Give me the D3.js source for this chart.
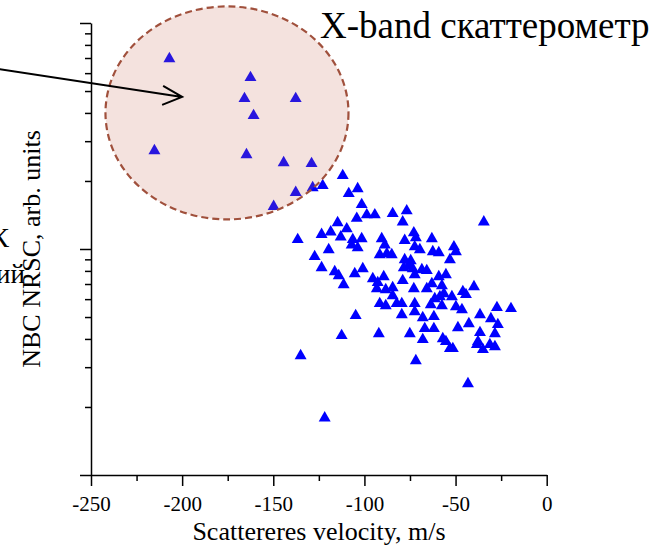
<!DOCTYPE html>
<html>
<head>
<meta charset="utf-8">
<script src="https://cdn.jsdelivr.net/npm/d3@7"></script>
<style>
  body { margin: 0; background: #fff; }
  svg text { font-family: "Liberation Serif", "Times New Roman", serif; fill: #000; }
  .axis path, .axis line { stroke: #000; stroke-width: 1.5; }
</style>
</head>
<body>
<svg width="667" height="548"></svg>
<script>
// scatterer velocity, m/s
const velocity = [
  -207.0, -162.5, -165.8, -137.7, -160.8, -215.2, -164.7, -144.3, -129.0, -137.7, -128.4, -122.9, -149.8,
  -111.9, -108.6, -103.7, -101.5, -104.2, -98.7, -94.3, -84.5, -76.8, -79.0, -34.5, -114.7,
  -109.7, -118.5, -123.5, -113.0, -136.6, -106.4, -101.5, -90.5, -72.9, -71.8, -63.0, -77.9,
  -107.0, -103.7, -88.8, -119.6, -91.6, -87.7, -85.0, -72.4, -69.6, -62.5, -59.2, -50.9,
  -49.8, -53.1, -127.3, -123.5, -116.3, -114.1, -111.4, -105.3, -100.9, -95.4, -92.7, -89.4,
  -93.2, -88.3, -84.5, -77.9, -74.6, -78.4, -75.7, -73.5, -68.5, -65.8, -72.4, -79.0,
  -72.9, -65.8, -63.0, -59.2, -55.3, -57.5, -56.4, -58.6, -61.4, -52.0, -46.0, -44.3,
  -39.9, -84.5,
  -91.6, -88.3, -82.3, -79.5, -72.4, -63.6, -57.5, -49.8, -46.5, -27.3, -19.6, -104.8,
  -79.5, -72.4, -68.0, -61.9, -36.6, -30.6, -48.7, -42.7, -26.8, -36.6, -28.4, -112.5,
  -92.1, -75.1, -66.9, -61.9, -68.0, -57.0, -55.3, -53.1, -51.5, -37.7, -38.3, -35.0,
  -31.2, -28.4, -135.0, -71.8, -43.2, -121.8
]
// NBC NRSC, arb. units
const nrsc = [
  70.7, 58.3, 47.1, 47.1, 39.6, 27.7, 26.6, 24.5, 24.3, 18.1, 19.0, 19.4, 15.7,
  21.5, 17.9, 18.8, 16.0, 13.9, 14.4, 14.4, 14.6, 15.0, 13.4, 13.4, 13.3,
  12.5, 12.1, 11.8, 11.5, 11.2, 11.2, 11.3, 11.3, 12.0, 11.4, 11.3, 11.1,
  10.6, 10.3, 10.6, 10.1, 9.60, 9.70, 9.60, 10.4, 10.1, 9.90, 9.80, 10.4,
  9.90, 9.12, 9.41, 8.41, 8.07, 7.75, 7.07, 7.91, 8.32, 7.52, 7.22, 7.67,
  6.79, 6.72, 6.86, 9.12, 9.03, 8.41, 8.58, 8.32, 8.24, 8.16, 7.83, 7.37,
  6.79, 6.79, 7.14, 7.67, 7.83, 7.00, 6.45, 6.26, 6.13, 6.26, 6.59, 6.39,
  6.93, 6.32,
  5.83, 5.71, 5.83, 5.83, 5.83, 5.77, 5.71, 5.65, 5.48, 5.60, 5.54, 5.16,
  5.21, 5.37, 5.05, 5.11, 5.21, 5.00, 4.56, 4.75, 4.71, 4.34, 4.29, 4.21,
  4.29, 4.29, 4.52, 4.52, 4.04, 4.08, 3.96, 3.69, 3.69, 3.96, 3.84, 3.65,
  3.84, 3.76, 3.43, 3.26, 2.58, 1.82
]
const xTicks = [-250, -200, -150, -100, -50, 0]
const xMinorTicks = [-225, -175, -125, -75, -25]
const yTicks = [1, 10, 100]
const yMinorTicks = [2, 3, 4, 5, 6, 7, 8, 9, 20, 30, 40, 50, 60, 70, 80, 90]

const svg = d3.select('svg')
const x = d3.scaleLinear().domain([-250, 0]).range([91, 546.7])
const y = d3.scaleLog().domain([1, 100]).range([475, 23])

// minor ticks first, then the main axes on top
svg.append('g').attr('class', 'axis')
  .attr('transform', 'translate(0,475)')
  .call(d3.axisBottom(x).tickValues(xMinorTicks).tickSize(6).tickFormat(''))
  .select('.domain').remove()
svg.append('g').attr('class', 'axis')
  .attr('transform', 'translate(91,0)')
  .call(d3.axisLeft(y).tickValues(yMinorTicks).tickSize(6).tickFormat(''))
  .select('.domain').remove()

const xAxis = svg.append('g').attr('class', 'axis')
  .attr('transform', 'translate(0,475)')
  .call(d3.axisBottom(x).tickValues(xTicks).tickSize(11).tickSizeOuter(0).tickPadding(10).tickFormat(d => String(d)))
xAxis.selectAll('text').style('font-size', '21px')

svg.append('g').attr('class', 'axis')
  .attr('transform', 'translate(91,0)')
  .call(d3.axisLeft(y).tickValues(yTicks).tickSize(11).tickSizeOuter(0).tickFormat(''))

svg.append('text')
  .attr('x', 319).attr('y', 540)
  .attr('text-anchor', 'middle')
  .style('font-size', '26px')
  .text('Scattereres velocity, m/s')

svg.append('text')
  .attr('transform', 'translate(40,249) rotate(-90)')
  .attr('text-anchor', 'middle')
  .style('font-size', '26px')
  .text('NBC NRSC, arb. units')

// points
const tri = d3.symbol(d3.symbolTriangle, 62)
svg.append('g')
  .selectAll('path')
  .data(velocity)
  .enter()
  .append('path')
  .attr('d', tri)
  .attr('transform', (d, i) => `translate(${x(d)},${y(nrsc[i]) + 1.7})`)
  .attr('fill', '#0000ff')

// highlighted region, drawn over the points (semi-transparent)
svg.append('ellipse')
  .attr('cx', x(-175.4)).attr('cy', y(40))
  .attr('rx', 121.5).attr('ry', 106.5)
  .attr('fill', 'rgb(200,110,90)').attr('fill-opacity', 0.2)
  .attr('stroke', '#a0503c').attr('stroke-width', 2.2)
  .attr('stroke-dasharray', '7,4')

// arrow from the (cut off) caption on the left
const tipX = x(-200), tipY = y(47.1)
svg.append('path')
  .attr('d', `M-2,69 L${tipX},${tipY} M${tipX - 19},${tipY - 11} L${tipX},${tipY} L${tipX - 20},${tipY + 8}`)
  .attr('fill', 'none').attr('stroke', '#000').attr('stroke-width', 2)

svg.append('text')
  .attr('x', 320).attr('y', 38)
  .style('font-size', '37px')
  .text('X-band скаттерометр')

// caption fragments cut by the left edge, as in the reference
svg.append('text')
  .attr('x', 9).attr('y', 247)
  .attr('text-anchor', 'end')
  .style('font-size', '28px')
  .text('ИК')
svg.append('text')
  .attr('x', 25).attr('y', 283)
  .attr('text-anchor', 'end')
  .style('font-size', '27px')
  .text('обрушений')
</script>
</body>
</html>
